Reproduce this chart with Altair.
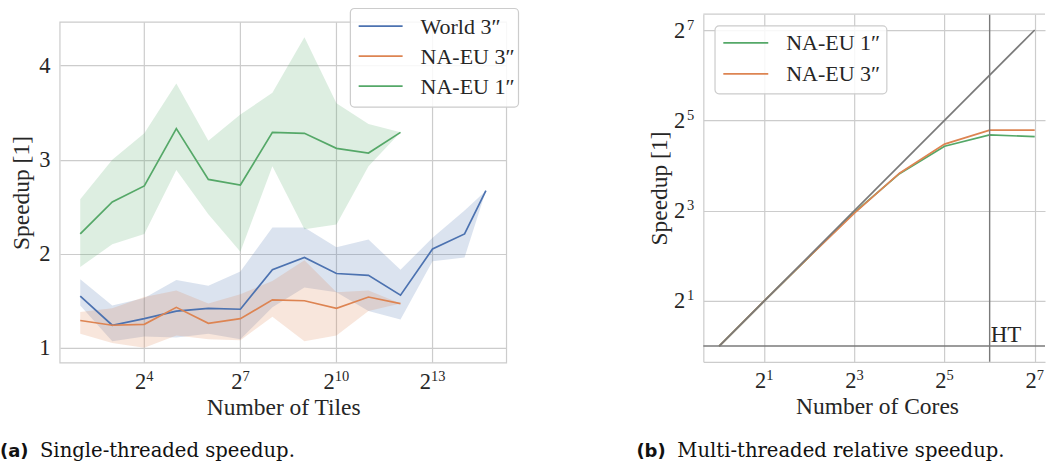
import math
import altair as alt
import pandas as pd

# ---------------- Panel (a): single-threaded speedup ----------------
series_a = ["World 3″", "NA-EU 3″", "NA-EU 1″"]
colors_a = ["#4c72b0", "#dd8452", "#55a868"]

tiles_naeu = [4, 8, 16, 32, 64, 128, 256, 512, 1024, 2048, 4096]
tiles_world = [4, 8, 16, 32, 64, 128, 256, 512, 1024, 2048, 4096, 8192, 16384, 26000]

world_mean = [1.55, 1.24, 1.31, 1.39, 1.42, 1.41, 1.83, 1.96, 1.79, 1.77, 1.56, 2.05, 2.21, 2.67]
world_lo = [1.45, 1.07, 1.12, 1.11, 1.15, 1.09, 1.43, 1.64, 1.59, 1.39, 1.30, 1.92, 1.96, 2.67]
world_hi = [1.73, 1.45, 1.53, 1.72, 1.66, 1.81, 2.28, 2.28, 2.07, 2.15, 1.83, 2.17, 2.46, 2.67]

naeu3_mean = [1.29, 1.24, 1.25, 1.43, 1.26, 1.31, 1.51, 1.50, 1.42, 1.54, 1.47]
naeu3_lo = [1.15, 1.05, 1.00, 1.13, 1.09, 1.08, 1.33, 1.07, 1.13, 1.39, 1.47]
naeu3_hi = [1.38, 1.42, 1.54, 1.61, 1.47, 1.57, 1.71, 1.93, 1.59, 1.61, 1.47]

naeu1_mean = [2.21, 2.55, 2.72, 3.33, 2.79, 2.73, 3.29, 3.28, 3.12, 3.07, 3.29]
naeu1_lo = [1.86, 2.10, 2.21, 2.89, 2.42, 2.02, 2.93, 2.26, 2.31, 2.93, 3.29]
naeu1_hi = [2.58, 3.00, 3.28, 3.81, 3.20, 3.48, 3.71, 4.30, 3.60, 3.38, 3.29]

x_ticks_a = [16, 128, 1024, 8192]
y_ticks_a = [1, 2, 3, 4]

# ---------------- Panel (b): multi-threaded relative speedup ----------------
series_b = ["NA-EU 1″", "NA-EU 3″"]
colors_b = ["#55a868", "#dd8452"]
cores = [1, 2, 4, 8, 16, 32, 64, 128]
naeu1_rel = [1.0, 2.0, 3.95, 7.8, 14.1, 21.5, 25.6, 24.9]
naeu3_rel = [1.0, 2.0, 3.95, 7.7, 14.2, 22.2, 27.5, 27.5]
ideal_cores = [1, 128]
ideal_speedup = [1, 128]
ht_cores = [64]
base_speedup = [1]
ticks_b = [2, 8, 32, 128]

captions_tag = ["(a)", "(b)"]
captions_text = ["Single-threaded speedup.", "Multi-threaded relative speedup."]

TEXT = "#262626"
GRID = "#cccccc"
GRAY = "#7a7a7a"
SERIF = "Liberation Serif"
BASE_FS = 22.5
EXP_FS = 14.5
CAP_FS = 19.6


def tick_frame(values, field):
    exps = [str(int(round(math.log2(v)))) for v in values]
    return pd.DataFrame({field: values, "exp": exps, "nd": [len(e) for e in exps]})


# ---------- frames ----------
rows = []
for name, xs, m, lo, hi in [
    (series_a[0], tiles_world, world_mean, world_lo, world_hi),
    (series_a[1], tiles_naeu, naeu3_mean, naeu3_lo, naeu3_hi),
    (series_a[2], tiles_naeu, naeu1_mean, naeu1_lo, naeu1_hi),
]:
    for x, a, b, c in zip(xs, m, lo, hi):
        rows.append({"series": name, "tiles": x, "mean": a, "lo": b, "hi": c})
df_a = pd.DataFrame(rows)

rows_b = []
for name, vals in [(series_b[0], naeu1_rel), (series_b[1], naeu3_rel)]:
    for c, v in zip(cores, vals):
        rows_b.append({"series": name, "cores": c, "speedup": v})
df_b = pd.DataFrame(rows_b)
df_ideal = pd.DataFrame({"cores": ideal_cores, "speedup": ideal_speedup})
df_ht = pd.DataFrame({"cores": ht_cores, "speedup": base_speedup, "label": ["HT"]})
df_one = pd.DataFrame({"k": [0]})


def x_pow2_labels(df, field, scale, axis, ypos):
    layers = []
    for nd, d in [(1, 2.0), (2, -1.6)]:
        src = alt.Chart(df).transform_filter(f"datum.nd == {nd}")
        layers.append(
            src.mark_text(align="right", baseline="alphabetic", font=SERIF, fontSize=BASE_FS,
                          color=TEXT, dx=d).encode(
                x=alt.X(f"{field}:Q", scale=scale, axis=axis), y=alt.value(ypos), text=alt.value("2")
            )
        )
        layers.append(
            src.mark_text(align="left", baseline="alphabetic", font=SERIF, fontSize=EXP_FS,
                          color=TEXT, dx=d, dy=-8).encode(
                x=alt.X(f"{field}:Q", scale=scale, axis=axis), y=alt.value(ypos), text="exp:N"
            )
        )
    return layers


def y_pow2_labels(df, field, scale, axis):
    src = alt.Chart(df)
    return [
        src.mark_text(align="right", baseline="alphabetic", font=SERIF, fontSize=BASE_FS,
                      color=TEXT, dy=7.5).encode(
            x=alt.value(-18), y=alt.Y(f"{field}:Q", scale=scale, axis=axis), text=alt.value("2")
        ),
        src.mark_text(align="right", baseline="alphabetic", font=SERIF, fontSize=EXP_FS,
                      color=TEXT, dy=-0.5).encode(
            x=alt.value(-9), y=alt.Y(f"{field}:Q", scale=scale, axis=axis), text="exp:N"
        ),
    ]


# ---------- Panel (a) ----------
WA, HA = 447, 349
TOP_A = 8  # top spine offset inside the (taller) view
xs_a = alt.Scale(type="log", base=2, domain=[2 ** 1.366, 2 ** 15.31], nice=False)
ys_a = alt.Scale(domain=[0.84, 4.5456], nice=False, zero=False)
col_a = alt.Scale(domain=series_a, range=colors_a)

xaxis_a = alt.Axis(
    values=x_ticks_a, labels=False, grid=False, domain=False,
    title="Number of Tiles", titleFont=SERIF, titleFontSize=23.5, titleColor=TEXT,
    titleFontWeight="normal", titleX=WA / 2, titleY=52, titleBaseline="alphabetic",
)
yaxis_a = alt.Axis(
    values=y_ticks_a, grid=True, domain=False, labelPadding=10,
    labelFont=SERIF, labelFontSize=BASE_FS, labelColor=TEXT,
    title="Speedup [1]", titleFont=SERIF, titleFontSize=23.5, titleColor=TEXT,
    titleFontWeight="normal", titleX=-31, titleY=TOP_A + (HA - TOP_A) / 2,
    titleBaseline="alphabetic",
)

base_a = alt.Chart(df_a)

xgrid_a = alt.Chart(pd.DataFrame({"tiles": x_ticks_a})).mark_rule(color=GRID, strokeWidth=1.2).encode(
    x=alt.X("tiles:Q", scale=xs_a, axis=xaxis_a), y=alt.value(TOP_A), y2=alt.value(HA)
)

bands_a = base_a.mark_area(opacity=0.2).encode(
    x=alt.X("tiles:Q", scale=xs_a, axis=xaxis_a),
    y=alt.Y("lo:Q", scale=ys_a, axis=yaxis_a),
    y2="hi:Q",
    color=alt.Color("series:N", scale=col_a, legend=None),
)

lines_a = base_a.mark_line(strokeWidth=1.7).encode(
    x=alt.X("tiles:Q", scale=xs_a, axis=xaxis_a),
    y=alt.Y("mean:Q", scale=ys_a, axis=yaxis_a),
    color=alt.Color("series:N", scale=col_a, legend=None),
)

frame_a = alt.Chart(df_one).mark_rect(filled=False, stroke=GRID, strokeWidth=1.2).encode(
    x=alt.value(0), x2=alt.value(WA), y=alt.value(TOP_A), y2=alt.value(HA)
)

legend_layers_a = [
    alt.Chart(df_one).mark_rect(fill="white", fillOpacity=0.85, stroke=GRID, strokeWidth=1.2, cornerRadius=4).encode(
        x=alt.value(290.7), x2=alt.value(459), y=alt.value(-5.7), y2=alt.value(93)
    )
]
for i, (name, c) in enumerate(zip(series_a, colors_a)):
    yy = 12 + 30 * i
    legend_layers_a.append(
        alt.Chart(df_one).mark_rule(color=c, strokeWidth=1.7).encode(
            x=alt.value(299), x2=alt.value(343), y=alt.value(yy)
        )
    )
    legend_layers_a.append(
        alt.Chart(df_one).mark_text(align="left", baseline="alphabetic", font=SERIF, fontSize=22, color=TEXT).encode(
            x=alt.value(361), y=alt.value(yy + 7.5), text=alt.value(name)
        )
    )

cap_a = [
    alt.Chart(df_one).mark_text(align="left", baseline="alphabetic", font="DejaVu Sans", fontWeight="bold",
                                fontSize=18, color="#111111").encode(
        x=alt.value(-60), y=alt.value(443), text=alt.value(captions_tag[0])
    ),
    alt.Chart(df_one).mark_text(align="left", baseline="alphabetic", font="DejaVu Serif",
                                fontSize=CAP_FS, color="#111111").encode(
        x=alt.value(-20), y=alt.value(443), text=alt.value(captions_text[0])
    ),
]

ticklabels_a = x_pow2_labels(tick_frame(x_ticks_a, "tiles"), "tiles", xs_a, xaxis_a, HA + 26)

chart_a = alt.layer(
    xgrid_a, bands_a, lines_a, frame_a, *ticklabels_a, *legend_layers_a, *cap_a
).properties(width=WA, height=HA)

# ---------- Panel (b) ----------
WB, HB = 342, 348
xs_b = alt.Scale(type="log", base=2, domain=[2 ** -0.352, 2 ** 7.228], nice=False)
ys_b = alt.Scale(type="log", base=2, domain=[2 ** -0.35, 2 ** 7.35], nice=False)
col_b = alt.Scale(domain=series_b, range=colors_b)

xaxis_b = alt.Axis(
    values=ticks_b, labels=False, grid=True, domain=True,
    title="Number of Cores", titleFont=SERIF, titleFontSize=23.5, titleColor=TEXT,
    titleFontWeight="normal", titleX=173.8, titleY=52, titleBaseline="alphabetic",
)
yaxis_b = alt.Axis(
    values=ticks_b, labels=False, grid=True, domain=True,
    title="Speedup [1]", titleFont=SERIF, titleFontSize=23.5, titleColor=TEXT,
    titleFontWeight="normal", titleX=-37, titleY=HB / 2, titleBaseline="alphabetic",
)

lines_b = alt.Chart(df_b).mark_line(strokeWidth=1.7).encode(
    x=alt.X("cores:Q", scale=xs_b, axis=xaxis_b),
    y=alt.Y("speedup:Q", scale=ys_b, axis=yaxis_b),
    color=alt.Color("series:N", scale=col_b, legend=None),
)

vline_b = alt.Chart(df_ht).mark_rule(color=GRAY, strokeWidth=1.4).encode(
    x=alt.X("cores:Q", scale=xs_b, axis=xaxis_b)
)
hline_b = alt.Chart(df_ht).mark_rule(color=GRAY, strokeWidth=1.4).encode(
    y=alt.Y("speedup:Q", scale=ys_b, axis=yaxis_b)
)
ideal_b = alt.Chart(df_ideal).mark_line(color=GRAY, strokeWidth=1.7).encode(
    x=alt.X("cores:Q", scale=xs_b, axis=xaxis_b), y=alt.Y("speedup:Q", scale=ys_b, axis=yaxis_b)
)
ht_text = alt.Chart(df_ht).mark_text(align="left", baseline="alphabetic", font=SERIF, fontSize=23,
                                     color=TEXT, dx=1, dy=-4).encode(
    x=alt.X("cores:Q", scale=xs_b, axis=xaxis_b), y=alt.Y("speedup:Q", scale=ys_b, axis=yaxis_b),
    text="label:N"
)
top_b = alt.Chart(df_one).mark_rule(color=GRID, strokeWidth=1.2).encode(
    x=alt.value(0), x2=alt.value(WB), y=alt.value(0)
)

legend_layers_b = [
    alt.Chart(df_one).mark_rect(fill="white", fillOpacity=0.85, stroke=GRID, strokeWidth=1.2, cornerRadius=4).encode(
        x=alt.value(11.7), x2=alt.value(183.7), y=alt.value(11.7), y2=alt.value(79.7)
    )
]
for i, (name, c) in enumerate(zip(series_b, colors_b)):
    yy = 28.7 + 31 * i
    legend_layers_b.append(
        alt.Chart(df_one).mark_rule(color=c, strokeWidth=1.7).encode(
            x=alt.value(20), x2=alt.value(65), y=alt.value(yy)
        )
    )
    legend_layers_b.append(
        alt.Chart(df_one).mark_text(align="left", baseline="alphabetic", font=SERIF, fontSize=22, color=TEXT).encode(
            x=alt.value(83), y=alt.value(yy + 7.5), text=alt.value(name)
        )
    )

cap_b = [
    alt.Chart(df_one).mark_text(align="left", baseline="alphabetic", font="DejaVu Sans", fontWeight="bold",
                                fontSize=18, color="#111111").encode(
        x=alt.value(-67), y=alt.value(443), text=alt.value(captions_tag[1])
    ),
    alt.Chart(df_one).mark_text(align="left", baseline="alphabetic", font="DejaVu Serif",
                                fontSize=CAP_FS, color="#111111").encode(
        x=alt.value(-26), y=alt.value(443), text=alt.value(captions_text[1])
    ),
]

xticklabels_b = x_pow2_labels(tick_frame(ticks_b, "cores"), "cores", xs_b, xaxis_b, HB + 25.7)
yticklabels_b = y_pow2_labels(tick_frame(ticks_b, "speedup"), "speedup", ys_b, yaxis_b)

chart_b = alt.layer(
    lines_b, ideal_b, vline_b, hline_b, ht_text, top_b, *xticklabels_b, *yticklabels_b,
    *legend_layers_b, *cap_b
).properties(width=WB, height=HB)

chart = (
    alt.hconcat(chart_a, chart_b, spacing=197, bounds="flush")
    .resolve_scale(x="independent", y="independent", color="independent")
    .properties(padding={"left": 0, "top": 7, "right": 0, "bottom": 0}, background="white")
    .configure_view(strokeOpacity=0)
    .configure_axis(
        labelFont=SERIF, labelFontSize=BASE_FS, labelColor=TEXT,
        titleFont=SERIF, titleFontSize=23.5, titleColor=TEXT, titleFontWeight="normal",
        ticks=False, tickSize=0, gridColor=GRID, gridWidth=1.2, domainColor=GRID, domainWidth=1.2,
    )
)

chart.save("out.html", embed_options={"renderer": "svg", "actions": False})
